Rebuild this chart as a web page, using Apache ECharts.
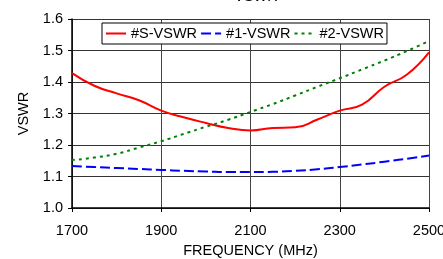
<!DOCTYPE html>
<html>
<head>
<meta charset="utf-8">
<script src="https://cdn.jsdelivr.net/npm/echarts@6/dist/echarts.min.js"></script>
<style>html,body{margin:0;padding:0;background:#fff;}#c{width:443px;height:259px;}</style>
</head>
<body>
<div id="c"></div>
<script>
var freqs = [1700, 1750, 1800, 1850, 1900, 1950, 2000, 2050, 2100, 2150, 2200, 2250, 2300, 2350, 2400, 2450, 2500];
var sVswr = [1.428, 1.388, 1.364, 1.342, 1.309, 1.288, 1.270, 1.254, 1.246, 1.254, 1.256, 1.281, 1.309, 1.328, 1.385, 1.423, 1.494];
var v1Vswr = [1.133, 1.130, 1.127, 1.124, 1.121, 1.118, 1.116, 1.114, 1.114, 1.115, 1.118, 1.123, 1.130, 1.138, 1.147, 1.156, 1.167];
var v2Vswr = [1.152, 1.160, 1.172, 1.192, 1.212, 1.235, 1.258, 1.280, 1.305, 1.330, 1.357, 1.385, 1.412, 1.440, 1.468, 1.498, 1.530];
var seriesNames = ['#S-VSWR', '#1-VSWR', '#2-VSWR'];
var yTicks = [1.0, 1.1, 1.2, 1.3, 1.4, 1.5, 1.6];
var xTicks = [1700, 1900, 2100, 2300, 2500];

function pairs(ys) { return freqs.map(function (f, i) { return [f, ys[i]]; }); }
var font = 'Liberation Sans, Arial, sans-serif';
var chart = echarts.init(document.getElementById('c'), null, { renderer: 'canvas' });
chart.setOption({
  animation: false,
  backgroundColor: '#fff',
  title: {
    text: 'VSWR', left: 251, top: -16, textAlign: 'center',
    textStyle: { fontFamily: font, fontSize: 14.5, fontWeight: 'normal', color: '#000' }
  },
  grid: { left: 72, right: 14, top: 19, bottom: 51, outerBoundsMode: 'none', containLabel: false },
  legend: {
    left: 102, top: 23,
    padding: [3, 3], itemGap: 3, itemWidth: 20, itemHeight: 12,
    backgroundColor: '#fff', borderColor: '#000', borderWidth: 1,
    itemStyle: { opacity: 0 },
    textStyle: { fontFamily: font, fontSize: 14.5, color: '#000' },
    data: seriesNames
  },
  xAxis: {
    type: 'value', min: xTicks[0], max: xTicks[xTicks.length - 1], interval: 200,
    name: 'FREQUENCY (MHz)', nameLocation: 'middle', nameGap: 35,
    nameTextStyle: { fontFamily: font, fontSize: 14.5, color: '#000' },
    axisLine: { lineStyle: { color: '#000', width: 1.5 } },
    axisTick: { show: true, length: 4, lineStyle: { color: '#000' } },
    axisLabel: { fontFamily: font, fontSize: 14.5, color: '#000', margin: 15,
      formatter: function (v) { return String(v); } },
    splitLine: { show: true, lineStyle: { color: '#444', width: 1 } }
  },
  yAxis: {
    type: 'value', min: 1.0, max: 1.6, interval: 0.1,
    name: 'VSWR', nameLocation: 'middle', nameGap: 36, nameRotate: 90,
    nameTextStyle: { fontFamily: font, fontSize: 14.5, color: '#000' },
    axisLine: { show: true, lineStyle: { color: '#000', width: 1.5 } },
    axisTick: { show: true, length: 4, lineStyle: { color: '#000' } },
    axisLabel: { fontFamily: font, fontSize: 14.5, color: '#000', margin: 9,
      formatter: function (v) { return v.toFixed(1); } },
    splitLine: { show: true, lineStyle: { color: '#333', width: 1 } }
  },
  series: [
    { name: seriesNames[0], type: 'line', data: pairs(sVswr), smooth: 0.5, showSymbol: false, symbol: 'none',
      itemStyle: { color: '#ff0000' }, lineStyle: { color: '#ff0000', width: 2, type: 'solid' } },
    { name: seriesNames[1], type: 'line', data: pairs(v1Vswr), smooth: 0.5, showSymbol: false, symbol: 'none',
      itemStyle: { color: '#0000ff' }, lineStyle: { color: '#0000ff', width: 2, type: [10, 4] } },
    { name: seriesNames[2], type: 'line', data: pairs(v2Vswr), smooth: 0.5, showSymbol: false, symbol: 'none',
      itemStyle: { color: '#008000' }, lineStyle: { color: '#008000', width: 2, type: [3, 4] } }
  ]
});
</script>
</body>
</html>
